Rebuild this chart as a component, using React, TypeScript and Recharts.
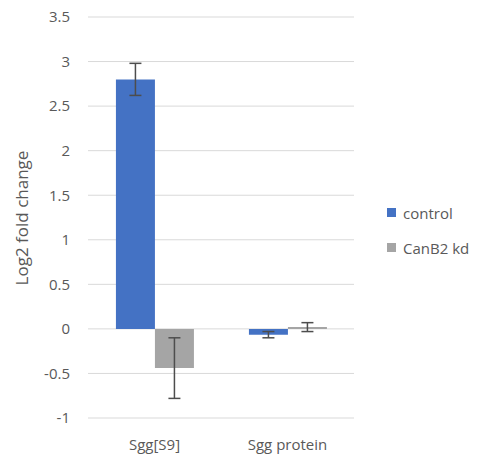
import { BarChart, Bar, XAxis, YAxis, CartesianGrid, ErrorBar, Legend, Label } from 'recharts'

// values
const categories = ['Sgg[S9]', 'Sgg protein']
const controlValues = [2.8, -0.065]
const controlErrors = [0.18, 0.035]
const kdValues = [-0.44, 0.02]
const kdErrors = [0.34, 0.05]
const yTicks = [-1, -0.5, 0, 0.5, 1, 1.5, 2, 2.5, 3, 3.5]
const seriesNames = ['control', 'CanB2 kd']

const BLUE = '#4472C4'
const GREY = '#A5A5A5'
const TEXT = '#595959'
const FONT = '"Open Sans", sans-serif'

const data = categories.map((name, i) => ({
  name,
  control: controlValues[i],
  controlErr: controlErrors[i],
  kd: kdValues[i],
  kdErr: kdErrors[i],
}))

const formatTick = (v: number) => String(v)

function LegendBox() {
  const colors = [BLUE, GREY]
  return (
    <div style={{ fontFamily: FONT, fontSize: 15, color: TEXT }}>
      {seriesNames.map((n, i) => (
        <div key={n} style={{ display: 'flex', alignItems: 'center', height: 35 }}>
          <span style={{ display: 'inline-block', width: 9, height: 9, background: colors[i], marginRight: 7 }} />
          {n}
        </div>
      ))}
    </div>
  )
}

export default function App() {
  return (
    <div style={{ position: 'absolute', left: 0, top: 0 }}>
      <style>{'body{margin:0}'}</style>
      <BarChart
        width={483}
        height={460}
        data={data}
        margin={{ top: 17, right: 129, bottom: 12, left: 0 }}
        barCategoryGap="21%"
        barGap={0}
      >
        <CartesianGrid vertical={false} stroke="#D9D9D9" strokeWidth={1} />
        <XAxis
          dataKey="name"
          axisLine={false}
          tickLine={false}
          tickSize={0}
          tickMargin={21}
          height={30}
          tick={{ fill: TEXT, fontSize: 15, fontFamily: FONT }}
        />
        <YAxis
          type="number"
          domain={[-1, 3.5]}
          ticks={yTicks}
          interval={0}
          width={88}
          axisLine={false}
          tickLine={false}
          tickSize={0}
          tickMargin={18}
          tickFormatter={formatTick}
          tick={{ fill: TEXT, fontSize: 15, fontFamily: FONT }}
        >
          <Label
            content={() => (
              <text
                x={21}
                y={218}
                transform="rotate(-90 21 218)"
                textAnchor="middle"
                dominantBaseline="central"
                fill={TEXT}
                fontSize={17}
                fontFamily={FONT}
              >
                Log2 fold change
              </text>
            )}
          />
        </YAxis>
        <Legend
          layout="vertical"
          align="center"
          verticalAlign="middle"
          wrapperStyle={{ position: 'absolute', left: 387, top: 195, width: 'auto' }}
          content={() => <LegendBox />}
        />
        <Bar dataKey="control" name={seriesNames[0]} fill={BLUE} isAnimationActive={false}>
          <ErrorBar dataKey="controlErr" width={6} stroke="#4D4D4D" strokeWidth={1.5} />
        </Bar>
        <Bar dataKey="kd" name={seriesNames[1]} fill={GREY} isAnimationActive={false}>
          <ErrorBar dataKey="kdErr" width={6} stroke="#4D4D4D" strokeWidth={1.5} />
        </Bar>
      </BarChart>
    </div>
  )
}
